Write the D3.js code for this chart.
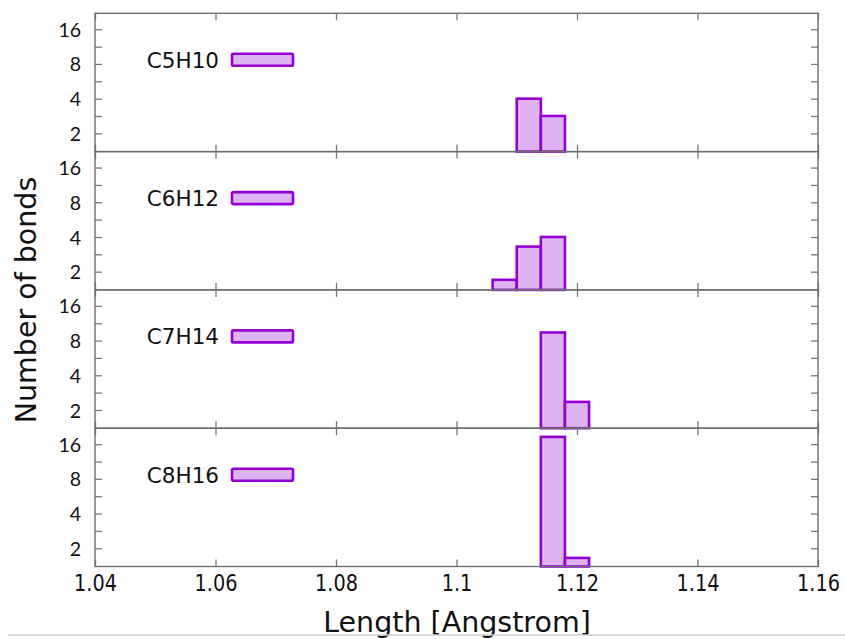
<!DOCTYPE html>
<html>
<head>
<meta charset="utf-8">
<script src="https://cdn.jsdelivr.net/npm/d3@7"></script>
<style>
  body { margin: 0; background: #fff; }
  svg { display: block; }
</style>
</head>
<body>
<svg id="hist_svg" width="845" height="639"></svg>
<script>
// bond length histograms, one panel per molecule
var formulas = ["C5H10", "C6H12", "C7H14", "C8H16"]
var binWidth = 0.004
var binStarts = [
    [1.110, 1.114],
    [1.106, 1.110, 1.114],
    [1.114, 1.118],
    [1.114, 1.118]
]
var bondCounts = [
    [4.0, 2.83],
    [1.7, 3.3, 4.0],
    [9.4, 2.35],
    [18.5, 1.65]
]
var xTicks = [1.04, 1.06, 1.08, 1.1, 1.12, 1.14, 1.16]
var xTickLabels = ["1.04", "1.06", "1.08", "1.1", "1.12", "1.14", "1.16"]
var yTicks = [2, 4, 8, 16]
var yMinorTicks = [2.83, 5.66, 11.3]
var yRange = [1.39, 22]

var svg, xScale, yScale
var left = 95, right = 818, top0 = 13.3, panelH = 138.3
var fillCol = "#ddb3f2", lineCol = "#9400d3"
var fontMain = "'DejaVu Sans', sans-serif"

document.addEventListener('DOMContentLoaded', function()
{
    svg = d3.select("#hist_svg")

    xScale = d3.scaleLinear()
        .domain([xTicks[0], xTicks[xTicks.length - 1]])
        .range([left, right])

    yScale = d3.scaleLog().base(2)
        .domain(yRange)
        .range([panelH, 0])

    formulas.forEach((f, i) => DrawPanel(i))

    // shared axis titles
    svg.append("text")
        .attr("x", 457)
        .attr("y", 632)
        .attr("text-anchor", "middle")
        .style("font-family", fontMain)
        .style("font-size", "28.5px")
        .style("fill", "#111")
        .text("Length [Angstrom]")

    svg.append("text")
        .attr("transform", "translate(36,300) rotate(-90)")
        .attr("text-anchor", "middle")
        .style("font-family", fontMain)
        .style("font-size", "28.5px")
        .style("fill", "#111")
        .text("Number of bonds")

    // thin grey rule at the very bottom of the picture
    svg.append("line")
        .attr("x1", 8).attr("x2", 845)
        .attr("y1", 635).attr("y2", 635)
        .attr("stroke", "#cfcfcf")
        .attr("stroke-width", 1.5)
})

function DrawPanel(i)
{
    var py = top0 + i * panelH
    var g = svg.append("g").attr("transform", `translate(0,${py})`)
    var isLast = (i == formulas.length - 1)

    // bottom ticks (labels only on the last panel)
    var bx = g.append("g")
        .attr("transform", `translate(0,${panelH})`)
        .call(d3.axisBottom(xScale).tickValues(xTicks).tickSize(-7).tickPadding(8)
            .tickFormat((d, k) => isLast ? xTickLabels[k] : ""))
    bx.select(".domain").remove()

    var tx = g.append("g")
        .call(d3.axisTop(xScale).tickValues(xTicks).tickSize(-7).tickFormat(""))
    tx.select(".domain").remove()

    var ly = g.append("g")
        .attr("transform", `translate(${left},0)`)
        .call(d3.axisLeft(yScale).tickValues(yTicks).tickSize(-7).tickPadding(14)
            .tickFormat(d3.format("d")))
    ly.select(".domain").remove()

    var lm = g.append("g")
        .attr("transform", `translate(${left},0)`)
        .call(d3.axisLeft(yScale).tickValues(yMinorTicks).tickSize(-7).tickFormat(""))
    lm.select(".domain").remove()

    var ry = g.append("g")
        .attr("transform", `translate(${right},0)`)
        .call(d3.axisRight(yScale).tickValues(yTicks.concat(yMinorTicks)).tickSize(-7).tickFormat(""))
    ry.select(".domain").remove()

    g.selectAll(".tick line").attr("stroke", "#777").attr("stroke-width", 1.3)

    // tick labels in the reference are narrow and tall
    bx.selectAll("text")
        .style("font-family", fontMain)
        .style("font-size", "23px")
        .attr("fill", "#111")
        .attr("transform", "scale(0.84,1)")

    ly.selectAll("text")
        .style("font-family", "Lato, 'Open Sans', sans-serif")
        .style("font-size", "19.5px")
        .attr("fill", "#111")
        .attr("dy", "0.36em")

    // bars
    var rows = binStarts[i].map((b, k) => ({x0: b, x1: b + binWidth, n: bondCounts[i][k]}))
    g.selectAll(".bar")
        .data(rows)
        .join("rect")
        .attr("class", "bar")
        .attr("x", d => xScale(d.x0))
        .attr("width", d => xScale(d.x1) - xScale(d.x0))
        .attr("y", d => yScale(d.n))
        .attr("height", d => panelH - yScale(d.n))
        .attr("fill", fillCol)
        .attr("stroke", lineCol)
        .attr("stroke-width", 2.6)

    // frame
    g.append("rect")
        .attr("x", left).attr("y", 0)
        .attr("width", right - left).attr("height", panelH)
        .attr("fill", "none")
        .attr("stroke", "#6f6f6f")
        .attr("stroke-width", 1.4)

    // key
    g.append("text")
        .attr("x", 219)
        .attr("y", 54.5)
        .attr("text-anchor", "end")
        .style("font-family", fontMain)
        .style("font-size", "21.5px")
        .style("fill", "#111")
        .text(formulas[i])

    g.append("rect")
        .attr("x", 232).attr("y", 40.5)
        .attr("width", 61).attr("height", 12)
        .attr("rx", 1.5)
        .attr("fill", fillCol)
        .attr("stroke", lineCol)
        .attr("stroke-width", 2.6)
}
</script>
</body>
</html>
